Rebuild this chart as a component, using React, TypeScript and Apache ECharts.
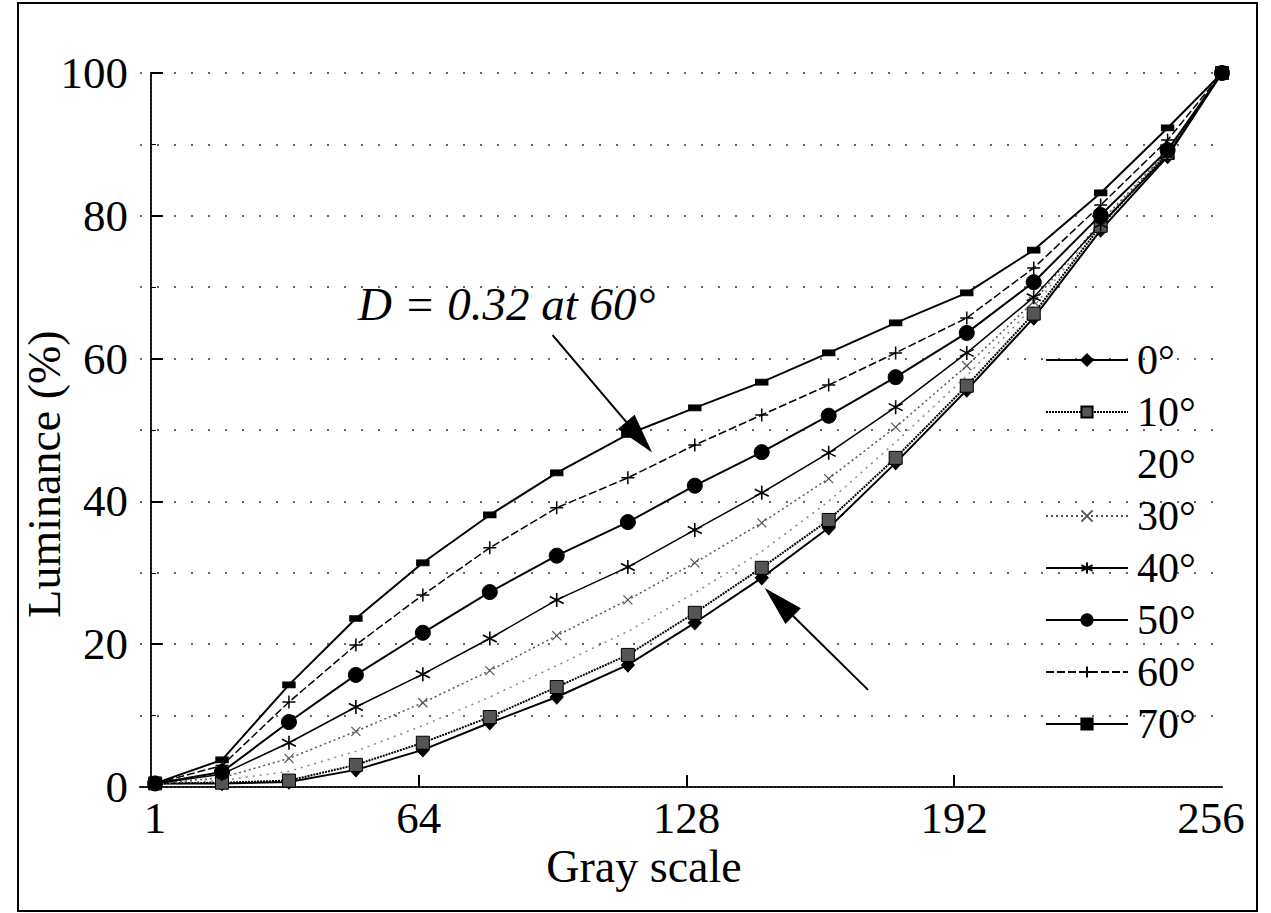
import React, { useEffect, useRef } from "react";
import * as echarts from "echarts";

// Gray level of each measured point
const grayLevels = [1, 17, 33, 49, 65, 81, 97, 114, 130, 146, 162, 178, 195, 211, 227, 243, 256];

// Luminance (%) per viewing angle
const lum0 = [0.5, 0.5, 0.7, 2.4, 5.2, 9.0, 12.6, 17.1, 23.0, 29.3, 36.3, 45.4, 55.6, 65.7, 78.0, 88.3, 100];
const lum10 = [0.5, 0.6, 0.9, 3.1, 6.2, 9.8, 14.0, 18.5, 24.4, 30.7, 37.4, 46.1, 56.2, 66.3, 78.6, 88.8, 100];
const lum20 = [0.5, 0.9, 2.2, 5.0, 8.6, 12.6, 17.0, 21.8, 27.2, 33.0, 40.0, 48.3, 57.6, 67.3, 78.9, 89.0, 100];
const lum30 = [0.5, 1.3, 4.0, 7.8, 11.8, 16.3, 21.2, 26.2, 31.4, 37.0, 43.2, 50.4, 59.0, 68.0, 79.2, 89.0, 100];
const lum40 = [0.5, 1.8, 6.2, 11.2, 15.8, 20.8, 26.2, 30.8, 36.0, 41.2, 46.8, 53.2, 60.8, 68.6, 78.8, 88.5, 100];
const lum50 = [0.5, 2.1, 9.1, 15.7, 21.6, 27.3, 32.4, 37.1, 42.2, 46.9, 52.0, 57.4, 63.6, 70.7, 80.1, 89.2, 100];
const lum60 = [0.5, 3.0, 11.9, 19.9, 26.9, 33.5, 39.1, 43.3, 47.9, 52.1, 56.3, 60.8, 65.7, 72.7, 81.5, 90.6, 100];
const lum70 = [0.5, 3.8, 14.3, 23.6, 31.4, 38.1, 44.0, 49.4, 53.1, 56.7, 60.8, 65.0, 69.2, 75.2, 83.2, 92.3, 100];

const angleNames = ["0°", "10°", "20°", "30°", "40°", "50°", "60°", "70°"];
const xTickLabels = [1, 64, 128, 192, 256];
const xTicks = [64, 128, 192];

// Annotation arrows (data coordinates): [tail, arrow-head centre]
const arrow1 = [[96, 63.3], [116.7, 49.0]];
const arrow2 = [[171.4, 13.6], [150.1, 25.9]];
const annotationText = "D = 0.32 at 60°";

export default function App() {
  const ref = useRef<HTMLDivElement>(null);
  useEffect(() => {
    const chart = echarts.init(ref.current!, null, { renderer: "svg" });
    const serif = "'Liberation Serif', 'Times New Roman', serif";
    const pair = (ys: number[]) => grayLevels.map((g, i) => [g, ys[i]]);
    const asterisk = "path://M6,0L6,12M0.8,3L11.2,9M0.8,9L11.2,3";
    const plus = "path://M6,0L6,12M0,6L12,6";
    const cross = "path://M0,0L10,10M0,10L10,0";
    const base = { type: "line", smooth: false, z: 3 };
    const series: any[] = [
      {
        ...base, name: angleNames[0], data: pair(lum0), symbol: "diamond", symbolSize: [13, 14],
        itemStyle: { color: "#000", borderColor: "#000", borderWidth: 1 },
        lineStyle: { color: "#000", width: 2 },
      },
      {
        ...base, name: angleNames[1], data: pair(lum10), symbol: "rect", symbolSize: 13,
        itemStyle: { color: "#555", borderColor: "#000", borderWidth: 1 },
        lineStyle: { color: "#000", width: 2, type: [2, 1] },
      },
      {
        ...base, name: angleNames[2], data: pair(lum20), symbol: "none",
        itemStyle: { color: "#888" },
        lineStyle: { color: "#888", width: 1.5, type: [2, 5] },
      },
      {
        ...base, name: angleNames[3], data: pair(lum30), symbol: cross, symbolSize: 9,
        itemStyle: { color: "none", borderColor: "#555", borderWidth: 1.2 },
        lineStyle: { color: "#555", width: 1.5, type: [2, 3] },
      },
      {
        ...base, name: angleNames[4], data: pair(lum40), symbol: asterisk, symbolSize: 14,
        itemStyle: { color: "none", borderColor: "#000", borderWidth: 1.6 },
        lineStyle: { color: "#000", width: 1.5 },
      },
      {
        ...base, name: angleNames[5], data: pair(lum50), symbol: "circle", symbolSize: 15,
        itemStyle: { color: "#000", borderColor: "#000", borderWidth: 1 },
        lineStyle: { color: "#000", width: 2 },
      },
      {
        ...base, name: angleNames[6], data: pair(lum60), symbol: plus, symbolSize: 13,
        itemStyle: { color: "none", borderColor: "#000", borderWidth: 1.5 },
        lineStyle: { color: "#000", width: 1.5, type: [8, 3] },
      },
      {
        ...base, name: angleNames[7], data: pair(lum70), symbol: "rect", symbolSize: [12, 6],
        itemStyle: { color: "#000", borderColor: "#000", borderWidth: 1 },
        lineStyle: { color: "#000", width: 2 },
        markLine: {
          silent: true,
          symbol: ["none", "triangle"],
          symbolSize: [22, 40],
          label: { show: false },
          lineStyle: { color: "#000", width: 2, type: "solid" },
          itemStyle: { color: "#000" },
          data: [
            [{ coord: arrow1[0] }, { coord: arrow1[1] }],
            [{ coord: arrow2[0] }, { coord: arrow2[1] }],
          ],
        },
      },
    ];

    const option: any = {
      animation: false,
      backgroundColor: "#fff",
      grid: { left: 140, right: 49, top: 73, bottom: 126, containLabel: false },
      xAxis: [
        {
          type: "value", min: -2.6, max: 256, position: "bottom",
          axisLine: { show: true, lineStyle: { color: "#000", width: 2 } },
          axisTick: { show: true, inside: true, length: 12, customValues: xTicks, lineStyle: { color: "#000", width: 2 } },
          axisLabel: {
            customValues: xTickLabels, color: "#000", fontFamily: serif, fontSize: 45, margin: 8,
            formatter: (v: number) => (v === 256 ? "{r|256}" : String(v)),
            rich: { r: { fontFamily: serif, fontSize: 45, color: "#000", padding: [0, 22, 0, 0] } },
          },
          splitLine: { show: false },
        },
        {
          type: "value", min: -2.6, max: 256, position: "top",
          axisLine: { show: true, lineStyle: { color: "#333", width: 1.5, type: [2, 2] } },
          axisTick: { show: false }, axisLabel: { show: false }, splitLine: { show: false },
        },
      ],
      yAxis: [
        {
          type: "value", min: 0, max: 100, interval: 20, position: "left",
          axisLine: { show: true, lineStyle: { color: "#000", width: 2 } },
          axisTick: { show: true, inside: true, length: 12, lineStyle: { color: "#000", width: 2 } },
          minorTick: { show: true, splitNumber: 2, length: 5, lineStyle: { color: "#000" } },
          axisLabel: { color: "#000", fontFamily: serif, fontSize: 45, margin: 12 },
          splitLine: { show: true, lineStyle: { color: "#333", width: 1.5, type: [2, 15] } },
          minorSplitLine: { show: true, lineStyle: { color: "#333", width: 1.5, type: [2, 15] } },
        },
        {
          type: "value", min: 0, max: 100, position: "right",
          axisLine: { show: true, lineStyle: { color: "#333", width: 1.5, type: [2, 2] } },
          axisTick: { show: false }, axisLabel: { show: false }, splitLine: { show: false },
        },
      ],
      legend: {
        orient: "vertical", left: 1040, top: 334, itemWidth: 82, itemHeight: 14, itemGap: 10,
        textStyle: { color: "#000", fontFamily: serif, fontSize: 42, lineHeight: 42, padding: [0, 0, 0, 4] },
        data: angleNames.map((n, i) => (i === 2 ? { name: n, icon: "none" } : { name: n })),
        selectedMode: false,
      },
      graphic: [
        {
          type: "rect", shape: { x: 18, y: 3, width: 1239, height: 908 }, silent: true,
          style: { fill: "none", stroke: "#000", lineWidth: 2 },
        },
        {
          type: "text", x: 358, y: 304, silent: true,
          style: { text: annotationText, font: `italic 47px ${serif}`, fill: "#000", verticalAlign: "middle", align: "left" },
        },
        {
          type: "text", x: 644, y: 866, silent: true,
          style: { text: "Gray scale", font: `46px ${serif}`, fill: "#000", verticalAlign: "middle", align: "center" },
        },
        {
          type: "text", x: 44, y: 474, rotation: Math.PI / 2, silent: true,
          style: { text: "Luminance (%)", font: `46px ${serif}`, fill: "#000", verticalAlign: "middle", align: "center" },
        },
      ],
      series,
    };
    chart.setOption(option);
    return () => chart.dispose();
  }, []);
  return (
    <div
      ref={ref}
      style={{ position: "fixed", left: 0, top: 0, width: 1271, height: 913, background: "#fff" }}
    />
  );
}
